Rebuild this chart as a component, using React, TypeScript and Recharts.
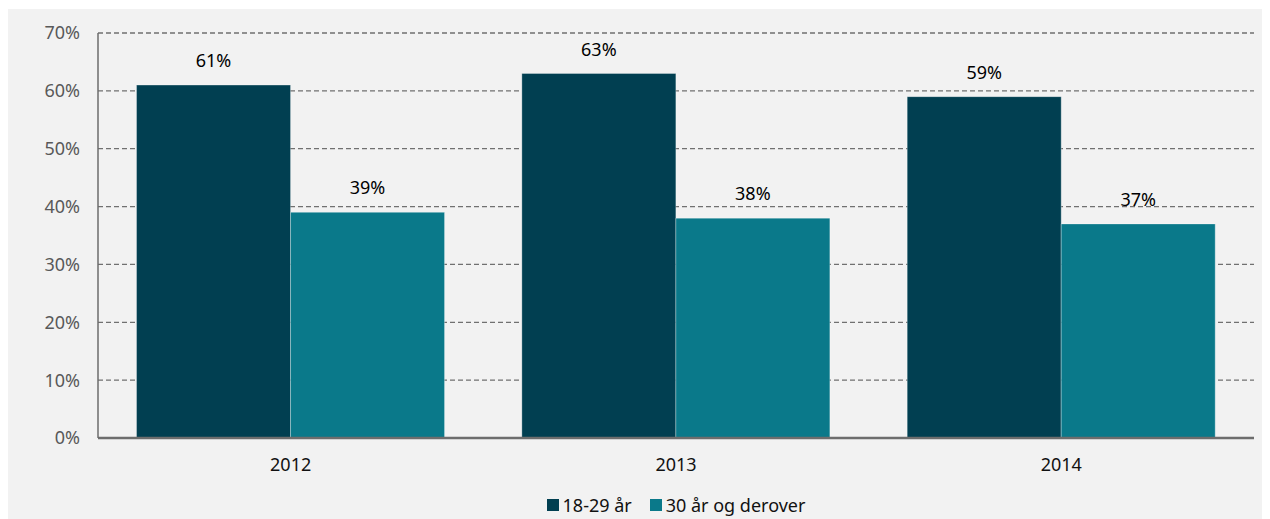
import React from "react";
import {
  BarChart,
  Bar,
  XAxis,
  YAxis,
  CartesianGrid,
  Legend,
  LabelList,
} from "recharts";

const years = ["2012", "2013", "2014"];
const young = [61, 63, 59];
const older = [39, 38, 37];
const yTicks = [0, 10, 20, 30, 40, 50, 60, 70];

const seriesNames = ["18-29 år", "30 år og derover"];
const colors = ["#013f51", "#0a798a"];

const data = years.map((year, i) => ({
  year,
  young: young[i],
  older: older[i],
}));

const FONT = "'Noto Sans', 'Open Sans', sans-serif";

const LegendContent = () => (
  <div
    style={{
      display: "flex",
      justifyContent: "center",
      alignItems: "center",
      gap: 18,
      height: 31,
      paddingTop: 2,
      boxSizing: "border-box",
      fontFamily: FONT,
      fontSize: 18,
      color: "#111",
    }}
  >
    {seriesNames.map((name, i) => (
      <div key={name} style={{ display: "flex", alignItems: "center", gap: 4 }}>
        <span style={{ width: 12, height: 12, background: colors[i], display: "inline-block" }} />
        <span>{name}</span>
      </div>
    ))}
  </div>
);

export default function App() {
  return (
    <div style={{ width: 1262, height: 510, marginTop: 1, background: "#f2f2f2" }}>
      <BarChart
        width={1262}
        height={510}
        data={data}
        margin={{ top: 24, right: 16, left: 0, bottom: 0 }}
        barCategoryGap="10%"
        barGap={0}
      >
        <CartesianGrid
          vertical={false}
          stroke="#707070"
          strokeWidth={1.3}
          strokeDasharray="5 3"
        />
        <XAxis
          dataKey="year"
          height={50}
          tickLine={false}
          tickSize={0}
          tickMargin={20}
          axisLine={{ stroke: "#6d6d6d", strokeWidth: 2.5 }}
          tick={{ fill: "#111", fontSize: 18, fontFamily: FONT }}
        />
        <YAxis
          width={90}
          domain={[0, 70]}
          ticks={yTicks}
          interval={0}
          tickLine={false}
          tickSize={0}
          tickMargin={18}
          axisLine={{ stroke: "#6d6d6d", strokeWidth: 1.5 }}
          tickFormatter={(v: number) => `${v}%`}
          tick={{ fill: "#595959", fontSize: 18, fontFamily: FONT }}
        />
        <Legend
          verticalAlign="bottom"
          content={<LegendContent />}
          wrapperStyle={{ left: 90, width: 1156 }}
        />
        <Bar
          dataKey="young"
          name={seriesNames[0]}
          fill={colors[0]}
          stroke="rgba(255,255,255,0.3)"
          strokeWidth={1}
          isAnimationActive={false}
        >
          <LabelList
            dataKey="young"
            position="top"
            offset={18}
            formatter={(v: number) => `${v}%`}
            style={{ fill: "#000", fontSize: 18, fontFamily: FONT }}
          />
        </Bar>
        <Bar
          dataKey="older"
          name={seriesNames[1]}
          fill={colors[1]}
          stroke="rgba(255,255,255,0.3)"
          strokeWidth={1}
          isAnimationActive={false}
        >
          <LabelList
            dataKey="older"
            position="top"
            offset={18}
            formatter={(v: number) => `${v}%`}
            style={{ fill: "#000", fontSize: 18, fontFamily: FONT }}
          />
        </Bar>
      </BarChart>
    </div>
  );
}
